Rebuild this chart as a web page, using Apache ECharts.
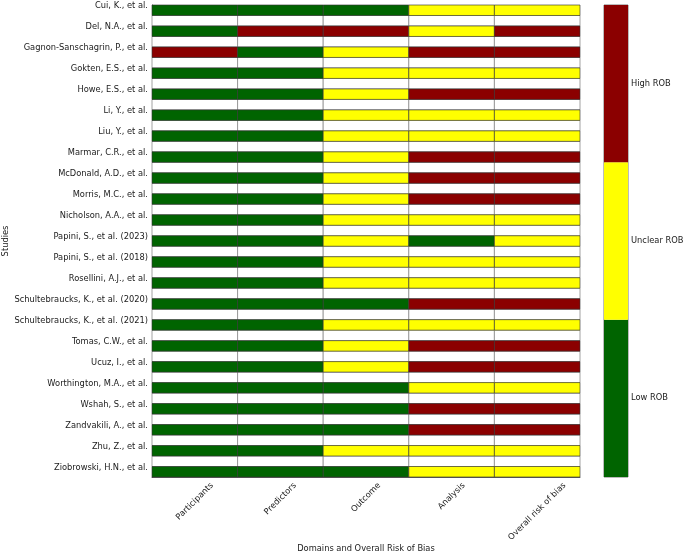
<!DOCTYPE html>
<html>
<head>
<meta charset="utf-8">
<script src="https://cdn.jsdelivr.net/npm/echarts@6/dist/echarts.min.js"></script>
<style>
  html, body { margin: 0; padding: 0; background: #fff; }
  #chart { width: 685px; height: 553px; }
</style>
</head>
<body>
<div id="chart"></div>
<script>
const studies = [
  "Cui, K., et al.",
  "Del, N.A., et al.",
  "Gagnon-Sanschagrin, P., et al.",
  "Gokten, E.S., et al.",
  "Howe, E.S., et al.",
  "Li, Y., et al.",
  "Liu, Y., et al.",
  "Marmar, C.R., et al.",
  "McDonald, A.D., et al.",
  "Morris, M.C., et al.",
  "Nicholson, A.A., et al.",
  "Papini, S., et al. (2023)",
  "Papini, S., et al. (2018)",
  "Rosellini, A.J., et al.",
  "Schultebraucks, K., et al. (2020)",
  "Schultebraucks, K., et al. (2021)",
  "Tomas, C.W., et al.",
  "Ucuz, I., et al.",
  "Worthington, M.A., et al.",
  "Wshah, S., et al.",
  "Zandvakili, A., et al.",
  "Zhu, Z., et al.",
  "Ziobrowski, H.N., et al.",
];

const domains = ["Participants", "Predictors", "Outcome", "Analysis", "Overall risk of bias"];

const riskLevels = ["Low ROB", "Unclear ROB", "High ROB"];
const riskColors = ["#006400", "#ffff00", "#8b0000"];

// 0 = low, 1 = unclear, 2 = high; one row per study, one entry per domain
const ratings = [
  [0, 0, 0, 1, 1],
  [0, 2, 2, 1, 2],
  [2, 0, 1, 2, 2],
  [0, 0, 1, 1, 1],
  [0, 0, 1, 2, 2],
  [0, 0, 1, 1, 1],
  [0, 0, 1, 1, 1],
  [0, 0, 1, 2, 2],
  [0, 0, 1, 2, 2],
  [0, 0, 1, 2, 2],
  [0, 0, 1, 1, 1],
  [0, 0, 1, 0, 1],
  [0, 0, 1, 1, 1],
  [0, 0, 1, 1, 1],
  [0, 0, 0, 2, 2],
  [0, 0, 1, 1, 1],
  [0, 0, 1, 2, 2],
  [0, 0, 1, 2, 2],
  [0, 0, 0, 1, 1],
  [0, 0, 0, 2, 2],
  [0, 0, 0, 2, 2],
  [0, 0, 1, 1, 1],
  [0, 0, 0, 1, 1],
];


const FONT = '"DejaVu Sans", sans-serif';
const FONT_SIZE = 8.3;
const TEXT_COLOR = "#1a1a1a";
const X_LABEL_MARGIN = 10;

// each study takes one coloured half-row followed by a blank half-row
const rowCount = studies.length * 2 - 1;

function buildCells() {
  const blank = [];
  const filled = [];
  ratings.forEach((row, i) => {
    row.forEach((risk, j) => {
      filled.push([j, i * 2, risk]);
      if (i < studies.length - 1) {
        blank.push([j, i * 2 + 1, -1]);
      }
    });
  });
  return blank.concat(filled);
}


// rotated labels centred under the tick with their top edge lined up (like ha="center").
// zrender only honours top padding with verticalAlign "top", so the shift
// down is split into a sideways part (right padding) and a normal part (top padding).
function buildXCategories() {
  const ctx = document.createElement("canvas").getContext("2d");
  ctx.font = `${FONT_SIZE}px "DejaVu Sans"`;
  return domains.map((name) => {
    const width = ctx.measureText(name).width;
    const drop = 5 + 0.354 * (width + 6) - X_LABEL_MARGIN;
    const along = drop / Math.SQRT2;
    return {
      value: name,
      textStyle: {
        align: "center",
        verticalAlign: "top",
        padding: [Math.max(0, along - FONT_SIZE / 2), 2 * along, 0, 0],
      },
    };
  });
}


function renderCell(params, api) {
  const col = api.value(0);
  const row = api.value(1);
  const risk = api.value(2);
  const start = api.coord([col, row]);
  const size = api.size([1, 1]);
  return {
    type: "rect",
    shape: { x: start[0] - size[0] / 2, y: start[1], width: size[0], height: size[1] },
    style: {
      fill: risk < 0 ? "#ffffff" : riskColors[risk],
      stroke: risk < 0 ? "#8a8a8a" : "rgba(50, 50, 50, 0.8)",
      lineWidth: 0.8,
    },
  };
}


const chart = echarts.init(document.getElementById("chart"), null, { renderer: "canvas" });

chart.setOption({
  animation: false,
  textStyle: { fontFamily: FONT },
  grid: [
    { left: 152, top: 5, width: 428, height: 472, outerBoundsMode: "none" },
    {
      left: 604, top: 5, width: 24, height: 472, outerBoundsMode: "none",
      show: true, borderColor: "#555", borderWidth: 0.8, backgroundColor: "transparent",
    },
  ],
  xAxis: [
    {
      type: "category",
      gridIndex: 0,
      data: buildXCategories(),
      boundaryGap: true,
      name: "Domains and Overall Risk of Bias",
      nameLocation: "middle",
      nameGap: 68,
      nameMoveOverlap: false,
      nameTextStyle: { color: TEXT_COLOR, fontSize: FONT_SIZE, fontFamily: FONT },
      axisLine: { onZero: false, lineStyle: { color: "#333", width: 0.8 } },
      axisTick: { show: true, inside: true, length: 2, alignWithLabel: true, lineStyle: { color: "#333", width: 0.8 } },
      axisLabel: {
        rotate: 45,
        align: "center",
        verticalAlign: "top",
        lineHeight: FONT_SIZE,
        margin: X_LABEL_MARGIN,
        interval: 0,
        hideOverlap: false,
        color: TEXT_COLOR,
        fontSize: FONT_SIZE,
        fontFamily: FONT,
      },
      splitLine: { show: false },
    },
    {
      type: "value",
      gridIndex: 1,
      min: 0,
      max: 1,
      show: false,
    },
  ],
  yAxis: [
    {
      type: "value",
      gridIndex: 0,
      min: 0,
      max: rowCount,
      interval: 2,
      inverse: true,
      name: "Studies",
      nameLocation: "middle",
      nameRotate: 90,
      nameGap: 142,
      nameMoveOverlap: false,
      nameTextStyle: { color: TEXT_COLOR, fontSize: FONT_SIZE, fontFamily: FONT },
      axisLine: { show: true, onZero: false, lineStyle: { color: "#333", width: 0.8 } },
      axisTick: { show: false },
      axisLabel: {
        margin: 4,
        verticalAlign: "top",
        lineHeight: 2,
        color: TEXT_COLOR,
        fontSize: FONT_SIZE,
        fontFamily: FONT,
        showMaxLabel: false,
        formatter: (value) => (value % 2 === 0 && value / 2 < studies.length ? studies[value / 2] : ""),
      },
      splitLine: { show: false },
    },
    {
      type: "category",
      gridIndex: 1,
      position: "right",
      data: riskLevels,
      axisLine: { show: false },
      axisTick: { show: true, length: 3, alignWithLabel: true, lineStyle: { color: "#333", width: 0.8 } },
      axisLabel: { margin: 3, color: TEXT_COLOR, fontSize: FONT_SIZE, fontFamily: FONT },
      splitLine: { show: false },
    },
  ],
  series: [
    {
      type: "custom",
      xAxisIndex: 0,
      yAxisIndex: 0,
      silent: true,
      renderItem: renderCell,
      encode: { x: 0, y: 1 },
      data: buildCells(),
    },
    {
      type: "bar",
      xAxisIndex: 1,
      yAxisIndex: 1,
      silent: true,
      barWidth: "100%",
      barCategoryGap: 0,
      data: riskLevels.map((level, i) => ({ value: 1, itemStyle: { color: riskColors[i] } })),
    },
  ],
});
</script>
</body>
</html>
